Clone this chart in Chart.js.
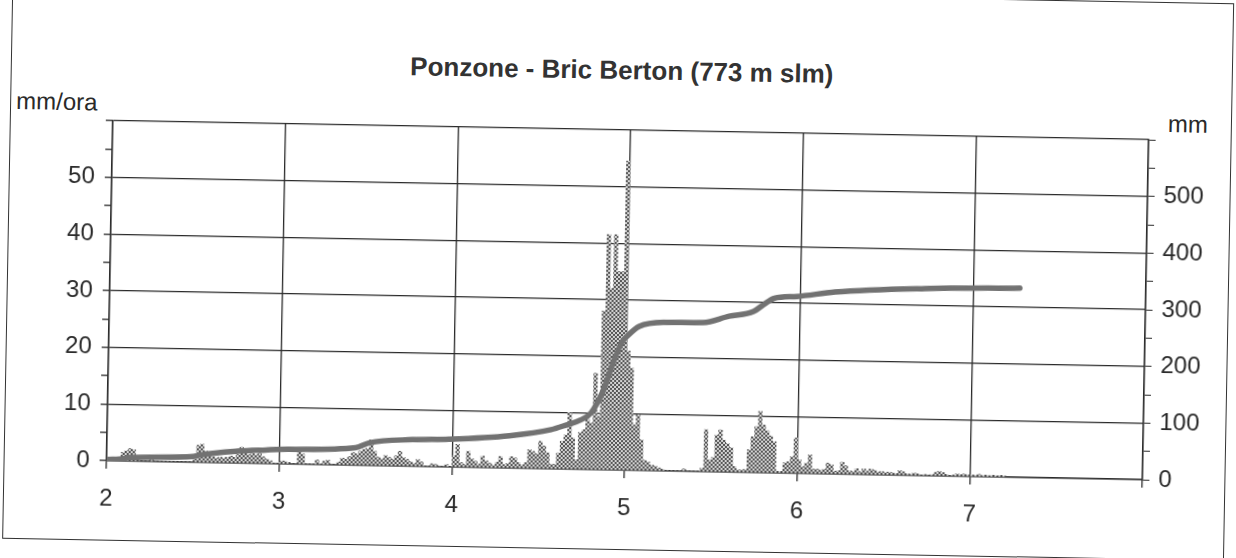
<!DOCTYPE html>
<html>
<head>
<meta charset="utf-8">
<script src="https://cdn.jsdelivr.net/npm/chart.js@4.4.1/dist/chart.umd.min.js"></script>
<style>
    html, body { margin: 0; padding: 0; background: #fff; overflow: hidden; }
    #sheet {
        position: absolute; left: 0; top: 0; width: 1236px; height: 558px;
        transform: rotate(1.05deg); transform-origin: 618px 279px;
        font-family: "Liberation Sans", Arial, sans-serif; color: #2a2a2a;
    }
    #frame { position: absolute; left: 7px; top: -8px; width: 1222px; height: 558px; border: 1.5px solid #333; box-sizing: border-box; }
    #title { position: absolute; left: 0; top: 55px; width: 1236px; text-align: center; font-weight: bold; font-size: 26px; color: #333; }
    .unit { position: absolute; font-size: 24px; }
    canvas { position: absolute; left: 0; top: 0; }
</style>
</head>
<body>
<div id="sheet">
    <div id="frame"></div>
    <div id="title">Ponzone - Bric Berton (773 m slm)</div>
    <div class="unit" style="left:13px; top:98px;">mm/ora</div>
    <div class="unit" style="left:1165px; top:100px;">mm</div>
    <canvas id="chart" width="1236" height="558"></canvas>
</div>
<script>
// hourly rain (mm/ora), one value per half hour, day by day
const days = [2, 3, 4, 5, 6, 7];
const rainDay2 = [0, 0, 0, 0, 1.5, 1.8, 2.2, 2.0, 0.5, 0, 0, 0,
    0.8, 0, 0, 0, 0, 0, 0, 0, 0, 0, 0, 0,
    0.5, 3.0, 3.2, 2.0, 1.2, 1.0, 0.8, 1.0, 0.8, 1.0, 1.2, 1.0,
    1.5, 2.8, 2.5, 1.5, 1.8, 1.5, 1.8, 1.2, 0.8, 0.5, 0, 0];
const rainDay3 = [0.5, 0.5, 0.3, 0, 0, 2.5, 1.8, 0, 0, 0, 0.8, 0,
    0.6, 0.8, 0, 0, 0.5, 1.2, 1.0, 1.5, 2.2, 2.0, 2.5, 2.8,
    3.0, 4.5, 2.5, 1.5, 1.2, 1.8, 1.5, 1.2, 1.8, 2.6, 1.5, 1.2,
    0.8, 0.5, 1.2, 0.8, 0, 0, 0.5, 0.4, 0, 0, 0.4, 0];
const rainDay4 = [2.0, 4.0, 0.8, 0.5, 2.8, 1.5, 1.1, 0.6, 2.0, 1.2, 0.8, 0.4,
    1.0, 2.0, 0.6, 0.8, 2.0, 1.8, 1.0, 0.6, 1.0, 3.3, 3.0, 2.6,
    4.8, 4.0, 2.8, 0.8, 0.8, 2.8, 4.9, 6.0, 10.0, 5.5, 1.7, 6.5,
    7.0, 8.8, 8.2, 17.0, 9.4, 28, 41.5, 32, 41.5, 35, 35, 54.5];
const rainDay5 = [21, 18, 8, 9.8, 5.4, 1.8, 1.5, 1.0, 0.8, 0.5, 0.3, 0,
    0, 0, 0, 0, 0.4, 0, 0, 0, 0, 0.6, 7.4, 2.1,
    2.5, 6.5, 7.4, 5.6, 5.0, 4.3, 1.0, 0.4, 0.4, 0.5, 4.0, 6.3,
    8.1, 10.8, 8.4, 7.4, 6.5, 5.5, 0.3, 0.3, 1.8, 2.0, 2.9, 6.2];
const rainDay6 = [2.4, 1.2, 1.8, 3.3, 0.8, 0.8, 0.6, 0.8, 1.9, 1.6, 0.5, 0.6,
    2.1, 1.5, 0.6, 0.5, 1.0, 0.5, 1.0, 0.6, 1.0, 0.8, 0.5, 0.6,
    0.4, 0.5, 0.4, 0.3, 0.8, 0.6, 0.3, 0.2, 0.4, 0.3, 0, 0.2,
    0, 0.2, 0.6, 0.8, 0.6, 0.3, 0, 0.2, 0.4, 0.3, 0.4, 0.3];
const rainDay7 = [0.3, 0.2, 0.4, 0.2, 0.3, 0.2, 0.3, 0.2, 0.3, 0.2];

// cumulative rain (mm)
const cumDays = [2.00, 2.10, 2.13, 2.50, 2.54, 2.76, 2.92, 3.05, 3.44, 3.52, 3.77, 3.98,
    4.33, 4.57, 4.66, 4.74, 4.80, 4.87, 4.93, 4.97, 5.01, 5.07, 5.21, 5.44,
    5.59, 5.73, 5.79, 5.85, 5.98, 6.20, 6.72, 7.27];
const cumMm = [2, 4, 6, 10, 13, 21, 24, 26, 31, 40, 47, 49,
    57, 69, 78, 87, 100, 141, 195, 225, 239, 254, 262, 263,
    275, 284, 297, 308, 312, 321, 330, 334];

const ink = '#2a2a2a';
const tickFont = { family: '"Liberation Sans", Arial, sans-serif', size: 24 };

// stippled fill like the printed bars
const stipple = (() => {
    const c = document.createElement('canvas');
    c.width = 4; c.height = 4;
    const g = c.getContext('2d');
    g.fillStyle = '#d4d4d4';
    g.fillRect(0, 0, 4, 4);
    g.fillStyle = '#555';
    g.fillRect(0, 0, 2, 2);
    g.fillRect(2, 2, 2, 2);
    return g.createPattern(c, 'repeat');
})();

const rainPoints = [];
[rainDay2, rainDay3, rainDay4, rainDay5, rainDay6, rainDay7].forEach((vals, d) => {
    vals.forEach((v, i) => rainPoints.push({ x: days[d] + (i + 0.5) / 48, y: v }));
});

new Chart(document.getElementById('chart'), {
    type: 'bar',
    data: {
        datasets: [
            {
                type: 'line',
                data: cumDays.map((d, i) => ({ x: d, y: cumMm[i] })),
                yAxisID: 'y1',
                borderColor: '#727272',
                borderWidth: 5.5,
                borderCapStyle: 'round',
                pointRadius: 0,
                cubicInterpolationMode: 'monotone',
                order: 0
            },
            {
                data: rainPoints,
                yAxisID: 'y',
                backgroundColor: stipple,
                borderWidth: 0,
                barPercentage: 1,
                categoryPercentage: 1,
                order: 1
            }
        ]
    },
    options: {
        responsive: false,
        animation: false,
        devicePixelRatio: 1,
        layout: { padding: { top: 130, left: 0, right: 0, bottom: 0 } },
        plugins: { legend: { display: false }, tooltip: { enabled: false } },
        scales: {
            x: {
                type: 'linear', min: 2, max: 8, offset: false,
                ticks: { stepSize: 1, maxRotation: 0, padding: 16, font: tickFont, color: ink,
                    callback: v => v < 8 ? v : '' },
                grid: { offset: false, color: ink, lineWidth: 1.3, tickLength: 8, tickColor: ink },
                border: { color: ink, width: 1.5 },
                afterFit: s => { s.height = 88; }
            },
            y: {
                position: 'left', min: 0, max: 60,
                ticks: { stepSize: 5, autoSkip: false, padding: 10, font: tickFont, color: ink,
                    callback: v => (v % 10 === 0 && v < 60) ? v : '' },
                grid: {
                    color: c => (c.tick && c.tick.value % 10 === 0) ? ink : 'rgba(0,0,0,0)',
                    tickColor: ink, tickLength: 7, lineWidth: 1.3
                },
                border: { color: ink, width: 1.5 },
                afterFit: s => { s.width = 110; }
            },
            y1: {
                position: 'right', min: 0, max: 600,
                ticks: { stepSize: 50, autoSkip: false, padding: 9, font: tickFont, color: ink,
                    callback: v => (v % 100 === 0 && v < 600) ? v : '' },
                grid: { drawOnChartArea: false, tickColor: ink, tickLength: 7 },
                border: { color: ink, width: 1.5 },
                afterFit: s => { s.width = 90; }
            }
        }
    }
});
</script>
</body>
</html>
